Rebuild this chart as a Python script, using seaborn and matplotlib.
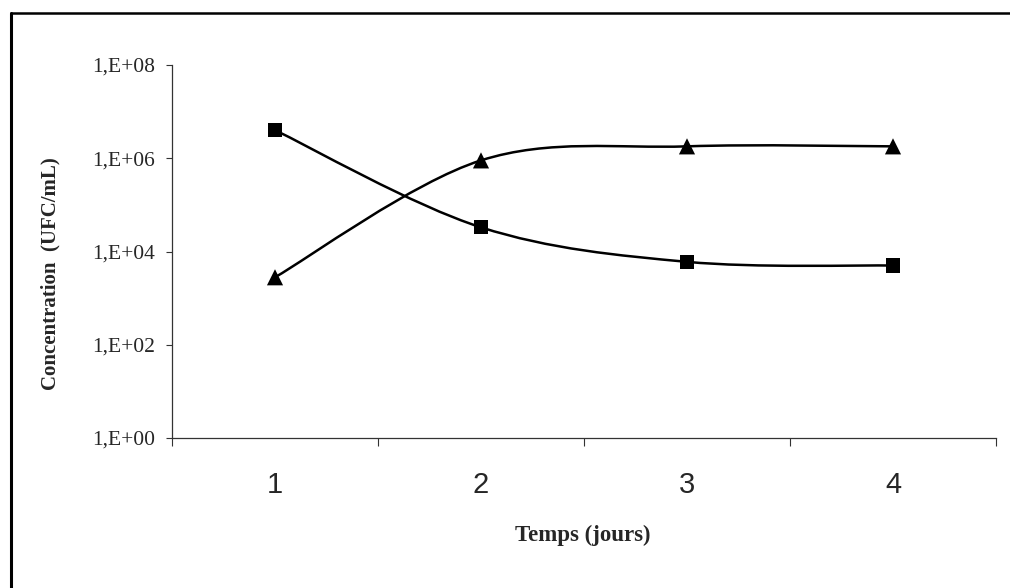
import matplotlib
matplotlib.use('Agg')
import matplotlib.pyplot as plt
import numpy as np
import pandas as pd
import seaborn as sns
from matplotlib.path import Path
from matplotlib.patches import PathPatch
from matplotlib.lines import Line2D

# donnees
jours = [1, 2, 3, 4]
conc_carres = [4.0e6, 3.3e4, 6.0e3, 5.0e3]
conc_triangles = [2.8e3, 9.0e5, 1.8e6, 1.8e6]
y_ticks = [1e0, 1e2, 1e4, 1e6, 1e8]
y_labels = ["1,E+00", "1,E+02", "1,E+04", "1,E+06", "1,E+08"]

sns.set_style("white")
plt.rcParams['font.family'] = ['Liberation Serif', 'DejaVu Sans']

pos = np.arange(len(jours))
df = pd.DataFrame({
    "pos": np.concatenate([pos, pos]),
    "conc": conc_carres + conc_triangles,
    "serie": ["carres"] * len(jours) + ["triangles"] * len(jours),
})

fig = plt.figure(figsize=(10.1, 5.88), dpi=100)
ax = fig.add_axes([172 / 1010, 1 - 438 / 588, (996 - 172) / 1010, (438 - 65) / 588])


# courbe lissee (bezier type Excel) tracee en espace log
def courbe_lissee(xs, ys):
    ly = np.log10(ys)
    pts = np.column_stack([xs, ly]).astype(float)
    n = len(pts)
    verts = [pts[0]]
    codes = [Path.MOVETO]
    for i in range(n - 1):
        p0 = pts[max(i - 1, 0)]
        p1 = pts[i]
        p2 = pts[i + 1]
        p3 = pts[min(i + 2, n - 1)]
        c1 = p1 + (p2 - p0) / 6
        c2 = p2 - (p3 - p1) / 6
        verts += [c1, c2, p2]
        codes += [Path.CURVE4] * 3
    verts = np.array(verts)
    verts[:, 1] = 10 ** verts[:, 1]
    return Path(verts, codes)


for vals in (conc_carres, conc_triangles):
    ax.add_patch(PathPatch(courbe_lissee(pos, vals), facecolor='none',
                           edgecolor='black', lw=1.8, zorder=2))

sns.scatterplot(data=df, x="pos", y="conc", style="serie", size="serie",
                markers={"carres": "s", "triangles": "^"},
                sizes={"carres": 105, "triangles": 135},
                color="black", edgecolor="black", linewidth=0,
                legend=False, ax=ax, zorder=3)

ax.set_yscale('log')
ax.set_ylim(1, 1e8)
ax.set_xlim(-0.5, len(jours) - 0.5)
ax.set_yticks(y_ticks)
ax.set_yticklabels(y_labels, fontsize=15.5)
ax.yaxis.set_minor_locator(matplotlib.ticker.NullLocator())
ax.tick_params(axis='y', which='major', direction='out', length=4.3, width=0.8,
               color='#333333', pad=8, left=True)

# ticks aux limites des categories, etiquettes au centre
ax.set_xticks(np.arange(-0.5, len(jours), 1.0))
ax.set_xticklabels([])
ax.set_xticks(pos, minor=True)
ax.set_xticklabels([str(j) for j in jours], minor=True,
                   fontsize=21, family='Liberation Sans')
ax.tick_params(axis='x', which='major', direction='out', length=5.8, width=0.8,
               color='#333333', bottom=True)
ax.tick_params(axis='x', which='minor', length=0, pad=24)

ax.set_xlabel("")
ax.set_ylabel("")
for s in ['top', 'right']:
    ax.spines[s].set_visible(False)
for s in ['left', 'bottom']:
    ax.spines[s].set_color('#333333')
    ax.spines[s].set_linewidth(0.9)

fig.text(50 / 1010, 1 - 274 / 588, "Concentration  (UFC/mL)", rotation=90,
         ha='center', va='center', fontsize=15, fontweight='bold')
fig.text(583 / 1010, 1 - 535 / 588, "Temps (jours)", ha='center', va='center',
         fontsize=16.5, fontweight='bold')

# cadre (bords gauche et haut visibles)
fig.add_artist(Line2D([11 / 1010, 11 / 1010], [0, 1 - 13 / 588],
                      transform=fig.transFigure, color='black', lw=2.2))
fig.add_artist(Line2D([11 / 1010, 1], [1 - 13 / 588, 1 - 13 / 588],
                      transform=fig.transFigure, color='black', lw=1.8))

fig.savefig("out.png", dpi=100)
